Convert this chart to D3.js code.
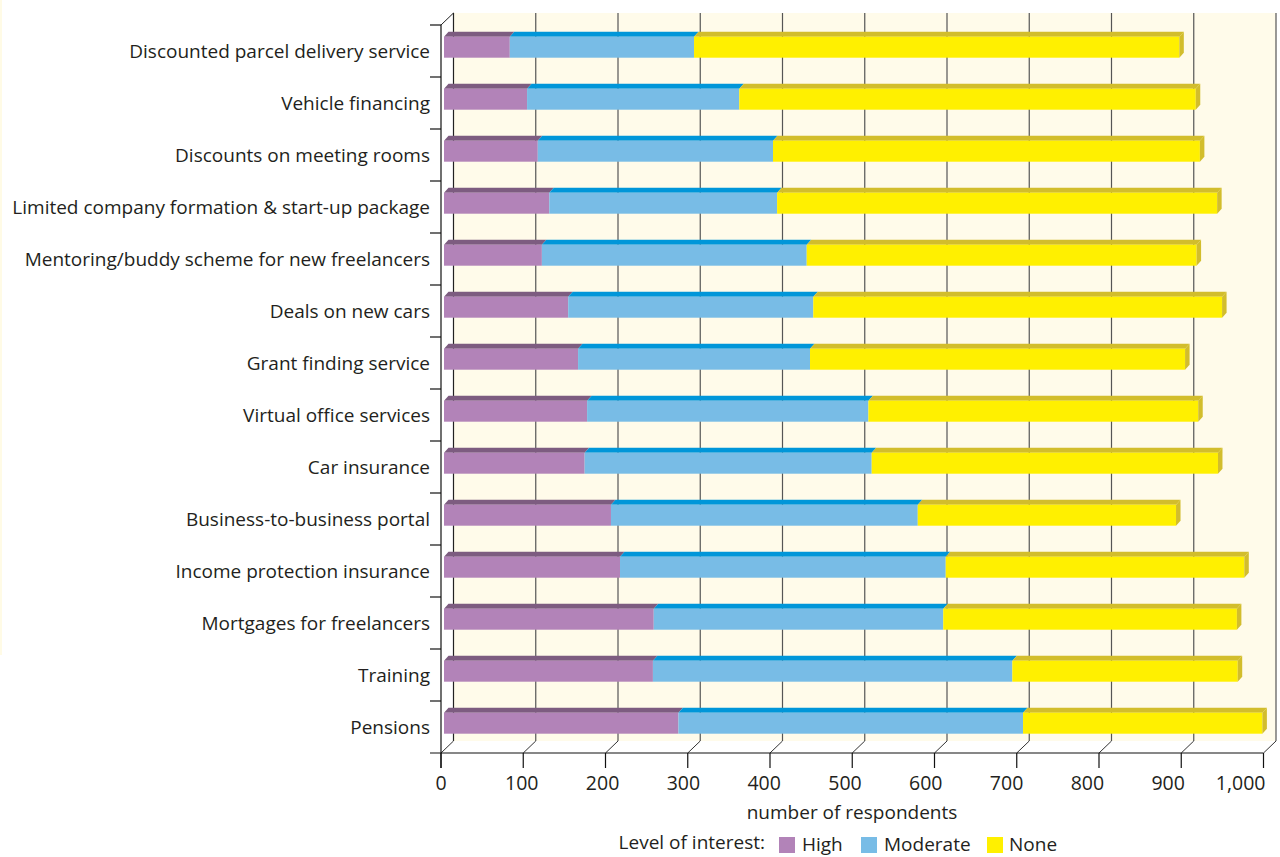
<!DOCTYPE html>
<html>
<head>
<meta charset="utf-8">
<script src="https://cdn.jsdelivr.net/npm/d3@7"></script>
<style>
  html, body { margin: 0; padding: 0; background: #ffffff; }
  svg { display: block; }
  text { font-family: "Open Sans", sans-serif; fill: #231f20; }
</style>
</head>
<body>
<svg id="chart" width="1280" height="857"></svg>
<script>
// Survey categories, top to bottom
const categories = [
  "Discounted parcel delivery service",
  "Vehicle financing",
  "Discounts on meeting rooms",
  "Limited company formation & start-up package",
  "Mentoring/buddy scheme for new freelancers",
  "Deals on new cars",
  "Grant finding service",
  "Virtual office services",
  "Car insurance",
  "Business-to-business portal",
  "Income protection insurance",
  "Mortgages for freelancers",
  "Training",
  "Pensions"
];

// Respondents per level of interest
const high     = [80, 101, 114, 128, 119, 151, 163, 174, 171, 203, 214, 255, 254, 285];
const moderate = [224, 258, 286, 277, 322, 298, 282, 342, 349, 373, 396, 352, 437, 419];
const none     = [590, 555, 519, 535, 474, 497, 456, 401, 421, 314, 363, 357, 274, 291];

const seriesNames = ["High", "Moderate", "None"];
const xTicks = [0, 100, 200, 300, 400, 500, 600, 700, 800, 900, 1000];
const xTitle = "number of respondents";
const legendTitle = "Level of interest:";

// Face colours per series: front, top/side
const palette = {
  High:     { front: "#b283b8", top: "#7d5c80" },
  Moderate: { front: "#78bce6", top: "#0096d9" },
  None:     { front: "#fff000", top: "#d2bd2c" }
};

const svg = d3.select("#chart");

// thin strip of cream page colour at the very left edge
svg.append("rect").attr("x", 0).attr("y", 0).attr("width", 2).attr("height", 655).attr("fill", "#fffbe6");

// Front-plane scales; the back wall is offset by the depth vector
const x = d3.scaleLinear().domain([0, 1000]).range([441, 1263.5]);
// tick labels sit on a slightly tighter spacing than the tick marks
const xLabel = d3.scaleLinear().domain([0, 1000]).range([441, 1249]);
const y = d3.scaleBand().domain(categories).range([25, 753]).paddingInner(0);
const depth = { dx: 12.5, dy: -12 };
const barShift = { dx: 3, dy: -3 };
const barDepth = 4.5;
const barH = 21;

const top0 = y.range()[0], bottom0 = y.range()[1];

// back wall
svg.append("rect")
  .attr("x", x(0) + depth.dx).attr("y", top0 + depth.dy)
  .attr("width", x(1000) - x(0)).attr("height", bottom0 - top0)
  .attr("fill", "#fffbea");

// grid lines on back wall plus floor diagonals
const grid = svg.append("g");
xTicks.forEach(t => {
  const xb = x(t) + depth.dx;
  grid.append("line")
    .attr("x1", xb).attr("x2", xb)
    .attr("y1", top0 + depth.dy).attr("y2", bottom0 + depth.dy)
    .attr("stroke", t === 0 ? "#222" : "#555").attr("stroke-width", 1.2);
  grid.append("line")
    .attr("x1", xb).attr("y1", bottom0 + depth.dy)
    .attr("x2", x(t)).attr("y2", bottom0)
    .attr("stroke", "#333").attr("stroke-width", 1);
});
// top-left diagonal of the wall
grid.append("line")
  .attr("x1", x(0)).attr("y1", top0)
  .attr("x2", x(0) + depth.dx).attr("y2", top0 + depth.dy)
  .attr("stroke", "#222").attr("stroke-width", 1);

// stacked bars
const rows = categories.map((c, i) => ({ cat: c, High: high[i], Moderate: moderate[i], None: none[i] }));
const stack = d3.stack().keys(seriesNames)(rows);

const barsG = svg.append("g");
stack.forEach(layer => {
  const key = layer.key;
  const col = palette[key];
  layer.forEach((seg, i) => {
    const cat = categories[i];
    const x0 = x(seg[0]) + barShift.dx;
    const x1 = x(seg[1]) + barShift.dx;
    const yc = y(cat) + y.bandwidth() / 2;
    const yt = yc - 14.3;
    // top face
    barsG.append("path")
      .attr("d", `M${x0},${yt}L${x1},${yt}L${x1 + barDepth},${yt - barDepth - 0.5}L${x0 + barDepth},${yt - barDepth - 0.5}Z`)
      .attr("fill", col.top);
    // front face
    barsG.append("rect")
      .attr("x", x0).attr("y", yt).attr("width", x1 - x0).attr("height", barH)
      .attr("fill", col.front);
    // right side face on the outer segment
    if (key === seriesNames[seriesNames.length - 1]) {
      barsG.append("path")
        .attr("d", `M${x1},${yt}L${x1 + barDepth},${yt - barDepth - 0.5}L${x1 + barDepth},${yt + barH - barDepth - 0.5}L${x1},${yt + barH}Z`)
        .attr("fill", col.top);
    }
  });
});

// front axes
const axG = svg.append("g");
axG.append("line")
  .attr("x1", x(0)).attr("x2", x(0)).attr("y1", top0).attr("y2", bottom0 + 15)
  .attr("stroke", "#111").attr("stroke-width", 1.2);
axG.append("line")
  .attr("x1", 430).attr("x2", x(1000)).attr("y1", bottom0).attr("y2", bottom0)
  .attr("stroke", "#111").attr("stroke-width", 1.2);

// category ticks (band boundaries) and labels
categories.forEach(c => {
  axG.append("line").attr("x1", 430).attr("x2", x(0)).attr("y1", y(c)).attr("y2", y(c))
    .attr("stroke", "#111").attr("stroke-width", 1.2);
  axG.append("text")
    .attr("x", 430).attr("y", y(c) + y.bandwidth() / 2 + 6.5)
    .attr("text-anchor", "end")
    .attr("font-size", "19px")
    .text(c);
});

// value axis ticks and labels
const fmt = d3.format(",");
xTicks.forEach((t, i) => {
  axG.append("line").attr("x1", x(t)).attr("x2", x(t)).attr("y1", bottom0).attr("y2", bottom0 + 15)
    .attr("stroke", "#111").attr("stroke-width", 1.2);
  const last = i === xTicks.length - 1;
  axG.append("text")
    .attr("x", last ? x(t) + 2 : xLabel(t)).attr("y", 790)
    .attr("text-anchor", last ? "end" : "middle")
    .attr("font-size", "19.5px")
    .text(fmt(t));
});

svg.append("text")
  .attr("x", 852).attr("y", 819)
  .attr("text-anchor", "middle")
  .attr("font-size", "19px")
  .text(xTitle);

// legend
const lg = svg.append("g");
lg.append("text").attr("x", 765).attr("y", 849).attr("text-anchor", "end").attr("font-size", "19px").text(legendTitle);
const legendPos = [{ sx: 779, tx: 802 }, { sx: 861, tx: 884 }, { sx: 987, tx: 1009 }];
seriesNames.forEach((s, i) => {
  lg.append("rect").attr("x", legendPos[i].sx).attr("y", 837).attr("width", 16).attr("height", 16)
    .attr("fill", palette[s].front);
  lg.append("text").attr("x", legendPos[i].tx).attr("y", 851).attr("font-size", "19px").text(s);
});
</script>
</body>
</html>
